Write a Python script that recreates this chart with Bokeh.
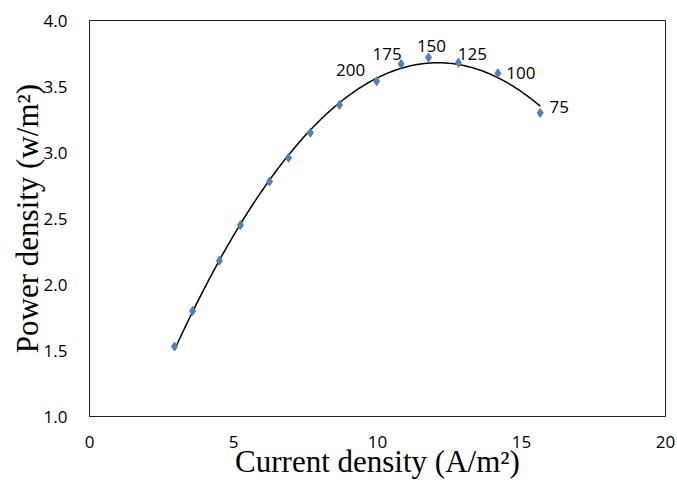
import numpy as np
from bokeh.plotting import figure
from bokeh.models import ColumnDataSource, FixedTicker, Range1d
from bokeh.core.properties import value
from bokeh.embed import file_html
from bokeh.resources import INLINE

# Data
current_density = [2.95, 3.58, 4.51, 5.24, 6.25, 6.91, 7.67, 8.68, 9.97, 10.82, 11.77, 12.81, 14.18, 15.65]
power_density = [1.53, 1.80, 2.18, 2.45, 2.78, 2.96, 3.15, 3.36, 3.54, 3.67, 3.72, 3.68, 3.60, 3.30]
point_labels = ["", "", "", "", "", "", "", "", "200", "175", "150", "125", "100", "75"]

x_ticks = [0, 5, 10, 15, 20]
y_ticks = [1.0, 1.5, 2.0, 2.5, 3.0, 3.5, 4.0]

# label placement (screen offsets, style only)
label_dx = [0, 0, 0, 0, 0, 0, 0, 0, -26, -14, 3, 14, 23, 19]
label_dy = [0, 0, 0, 0, 0, 0, 0, 0, -11, -10, -11, -9, 0, -6]

p = figure(width=677, height=489, output_backend="svg", toolbar_location=None,
           x_range=Range1d(0, 20), y_range=Range1d(1.0, 4.0),
           min_border_left=89, min_border_right=12, min_border_top=20, min_border_bottom=73)

p.background_fill_color = "white"
p.border_fill_color = "white"
p.outline_line_color = "#222222"
p.outline_line_width = 1
p.xgrid.visible = False
p.ygrid.visible = False

for ax in (p.xaxis[0], p.yaxis[0]):
    ax.major_tick_line_color = None
    ax.minor_tick_line_color = None
    ax.axis_line_color = "#222222"
    ax.major_label_text_font = "Open Sans"
    ax.major_label_text_font_size = "17px"
    ax.major_label_text_color = "black"
    ax.axis_label_text_font = "Liberation Serif"
    ax.axis_label_text_font_size = "31px"
    ax.axis_label_text_font_style = "normal"
    ax.axis_label_text_color = "black"

p.xaxis.ticker = FixedTicker(ticks=x_ticks)
p.yaxis.ticker = FixedTicker(ticks=y_ticks)
p.yaxis.major_label_overrides = {t: f"{t:.1f}" for t in y_ticks}
p.xaxis.axis_label = "Current density (A/m²)"
p.yaxis.axis_label = "Power density (w/m²)"
p.xaxis.major_label_standoff = 13
p.xaxis.axis_label_standoff = -7
p.yaxis.major_label_standoff = 16
p.yaxis.axis_label_standoff = -4

# Polynomial (order 2) trendline fitted to the data
coef = np.polyfit(current_density, power_density, 2)
xs = np.linspace(min(current_density), max(current_density), 200)
p.line(xs, np.polyval(coef, xs), line_color="black", line_width=1.5)

src = ColumnDataSource(dict(x=current_density, y=power_density, lab=point_labels,
                            dx=label_dx, dy=label_dy))
p.scatter("x", "y", source=src, marker="diamond", size=9,
          fill_color="#4F81BD", line_color="#4F81BD")
p.text("x", "y", text="lab", source=src, x_offset="dx", y_offset="dy",
       text_align="center", text_baseline="middle",
       text_font=value("Open Sans"), text_font_size="17px", text_color="black")

open("out.html", "w").write(file_html(p, INLINE))
